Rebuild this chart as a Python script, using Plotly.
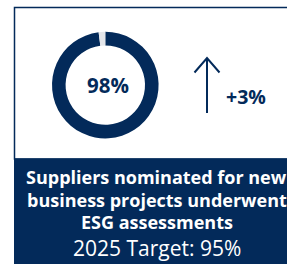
import plotly.graph_objects as go

# ---- data ----
metric_value = 98          # percent achieved
remainder = 100 - metric_value
change_label = "+3%"
title_lines = ["Suppliers nominated for new", "business projects underwent", "ESG assessments"]
target_label = "2025 Target: 95%"

W, H = 287, 264
NAVY = "#032a5a"
GAP = "#e4e6ea"
FONT = "Open Sans"

def fx(x):
    return x / W

def fy(y):
    return 1 - y / H

fig = go.Figure()

fig.add_trace(go.Pie(
    values=[metric_value, remainder],
    marker=dict(colors=[NAVY, GAP], line=dict(width=0)),
    hole=0.745,
    sort=False,
    direction="clockwise",
    rotation=0,
    textinfo="none",
    hoverinfo="skip",
    showlegend=False,
    domain=dict(x=[fx(52.0), fx(158.6)], y=[fy(138.4), fy(31.8)]),
))

shapes = [
    # outlined top panel
    dict(type="rect", xref="paper", yref="paper",
         x0=fx(14.5), x1=fx(305), y0=fy(159), y1=fy(7.5),
         line=dict(color=NAVY, width=1.5), fillcolor="rgba(0,0,0,0)", layer="below"),
    # navy bottom band
    dict(type="rect", xref="paper", yref="paper",
         x0=fx(14), x1=fx(305), y0=fy(264), y1=fy(158.5),
         line=dict(width=0), fillcolor=NAVY, layer="below"),
    # arrow shaft
    dict(type="line", xref="paper", yref="paper",
         x0=fx(207), x1=fx(207), y0=fy(113), y1=fy(58),
         line=dict(color=NAVY, width=2)),
    # arrow head
    dict(type="path", xref="paper", yref="paper",
         path=f"M {fx(194.5)} {fy(72.5)} L {fx(207)} {fy(58)} L {fx(219.5)} {fy(72.5)}",
         line=dict(color=NAVY, width=2)),
]

annotations = [
    dict(text=f"<b>{metric_value}%</b>", x=fx(107.5), y=fy(85), xref="paper", yref="paper",
         showarrow=False, xanchor="center", yanchor="middle",
         font=dict(family=FONT, size=20.5, color=NAVY)),
    dict(text=f"<b>{change_label}</b>", x=fx(245.5), y=fy(96.5), xref="paper", yref="paper",
         showarrow=False, xanchor="center", yanchor="middle",
         font=dict(family=FONT, size=19.5, color=NAVY)),
]

line_y = [177, 199.5, 221.5]
for t, yy in zip(title_lines, line_y):
    annotations.append(dict(text=f"<b>{t}</b>", x=fx(156.5), y=fy(yy), xref="paper", yref="paper",
                            showarrow=False, xanchor="center", yanchor="middle",
                            font=dict(family=FONT, size=18, color="white")))
annotations.append(dict(text=target_label, x=fx(157), y=fy(247.5), xref="paper", yref="paper",
                        showarrow=False, xanchor="center", yanchor="middle",
                        font=dict(family=FONT, size=21, color="white")))

fig.update_layout(
    width=W, height=H,
    margin=dict(l=0, r=0, t=0, b=0),
    paper_bgcolor="white", plot_bgcolor="white",
    shapes=shapes, annotations=annotations,
)

fig.write_html(
    "out.html",
    config={"displayModeBar": False},
    post_script="document.body.style.margin='0';document.body.style.overflow='hidden';",
)
